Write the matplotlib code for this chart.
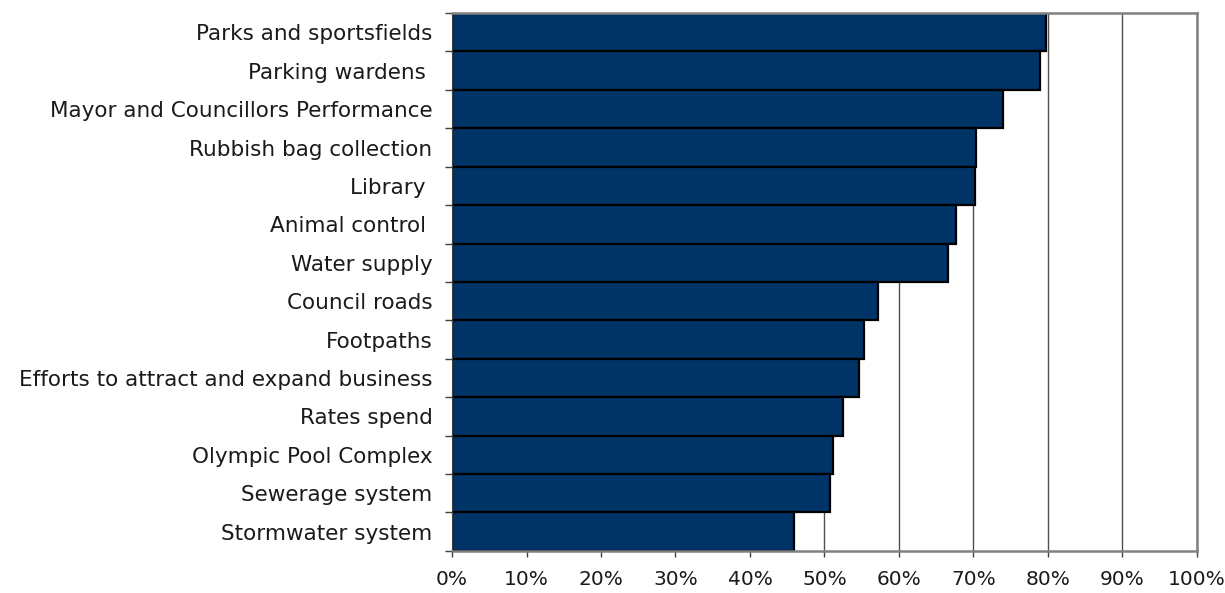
import matplotlib.pyplot as plt
import numpy as np
from matplotlib.ticker import PercentFormatter, FixedLocator

# satisfaction by council service, top to bottom
services = ['Parks and sportsfields', 'Parking wardens ',
            'Mayor and Councillors Performance', 'Rubbish bag collection',
            'Library ', 'Animal control ', 'Water supply', 'Council roads',
            'Footpaths', 'Efforts to attract and expand business',
            'Rates spend', 'Olympic Pool Complex', 'Sewerage system',
            'Stormwater system']
satisfied = [79.8, 79.0, 74.0, 70.4, 70.2, 67.7, 66.6, 57.2,
             55.3, 54.7, 52.5, 51.1, 50.8, 45.9]
xticks = [0, 10, 20, 30, 40, 50, 60, 70, 80, 90, 100]

plt.rcParams['font.family'] = 'DejaVu Sans'

fig = plt.figure(figsize=(12.25, 5.93), dpi=100)
ax = fig.add_axes([0.369, 0.071, 0.608, 0.907])

ypos = np.arange(len(services))[::-1]
ax.barh(ypos, satisfied, height=1.0, color='#003366',
        edgecolor='black', linewidth=1.6, zorder=2)

ax.set_xlim(0, 100)
ax.set_ylim(-0.5, len(services) - 0.5)
ax.set_xticks(xticks)
ax.xaxis.set_major_formatter(PercentFormatter(decimals=0))
ax.xaxis.grid(True, color='#505050', linewidth=1.0, zorder=0)
ax.set_axisbelow(True)

# labels centred on bars, tick marks on the bar boundaries
ax.set_yticks(ypos)
ax.set_yticklabels(services)
ax.yaxis.set_minor_locator(FixedLocator(np.arange(len(services) + 1) - 0.5))
ax.tick_params(axis='y', which='major', length=0, pad=14, labelsize=15.5,
               labelcolor='#1a1a1a')
ax.tick_params(axis='y', which='minor', length=5, width=1, color='#404040')
ax.tick_params(axis='x', length=4, width=1, color='#404040', pad=10,
               labelsize=14.5, labelcolor='#1a1a1a')

for side in ['top', 'right', 'bottom']:
    ax.spines[side].set_color('#808080')
    ax.spines[side].set_linewidth(1.8)
ax.spines['left'].set_color('#404040')

fig.savefig('out.png', dpi=100)
